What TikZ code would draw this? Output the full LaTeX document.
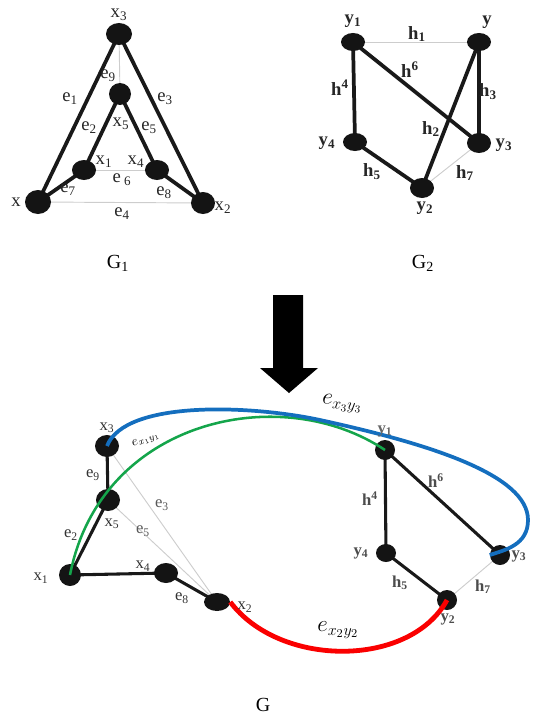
\documentclass[tikz,border=0pt]{standalone}
\usepackage{fontspec}
\setmainfont{Liberation Serif}
\usetikzlibrary{shapes.geometric}
\pgfdeclarelayer{background}
\pgfsetlayers{background,main}
\newcommand{\lsub}[2]{#1\textsubscript{#2}}
\definecolor{edgegray}{RGB}{205,205,205}
\definecolor{arcblue}{RGB}{20,110,190}
\definecolor{arcgreen}{RGB}{20,165,75}
\definecolor{arcred}{RGB}{250,0,0}
\tikzset{
  v/.style 2 args={ellipse, fill=black!92, draw=none, inner sep=0pt,
    minimum width=#1*0.75pt, minimum height=#2*0.75pt},
  lbl/.style={inner sep=0pt, font=\fontsize{14}{16}\selectfont, text=black!85},
  slbl/.style={inner sep=0pt, font=\fontsize{12.5}{14}\selectfont, text=black!80},
  heavy/.style={line width=2.8pt, black!90},
  lheavy/.style={line width=2.3pt, black!90},
  light/.style={line width=0.7pt, edgegray},
  title/.style={inner sep=0pt, font=\fontsize{15}{17}\selectfont},
}
\begin{document}
\begin{tikzpicture}[x=0.75pt, y=-0.75pt]
\useasboundingbox (0,0) rectangle (534,717);

% ---------- G1 ----------
\node[v={26}{22}] (a3) at (119,34) {};
\node[v={22}{22}] (a5) at (120,94) {};
\node[v={24}{20}] (a1) at (84,170) {};
\node[v={24}{20}] (a4) at (157,170) {};
\node[v={26}{24}] (a0) at (38,202) {};
\node[v={24}{22}] (a2) at (203,203) {};
\begin{pgfonlayer}{background}
  \draw[heavy] (a3.center) -- (a0.center);
  \draw[heavy] (a3.center) -- (a2.center);
  \draw[heavy] (a5.center) -- (a1.center);
  \draw[heavy] (a5.center) -- (a4.center);
  \draw[heavy] (a0.center) -- (a1.center);
  \draw[heavy] (a4.center) -- (a2.center);
  \draw[light] (a3.center) -- (a5.center);
  \draw[light] (a1.center) -- (a4.center);
  \draw[light] (a0.center) -- (a2.center);
\end{pgfonlayer}
\node[lbl] (la3) at (119,15) {\lsub{x}{3}};
\node[lbl] (le9) at (108,76) {\lsub{e}{9}};
\node[lbl] (le1) at (70,99) {\lsub{e}{1}};
\node[lbl] (le3) at (165,99) {\lsub{e}{3}};
\node[lbl] (le2) at (89,128) {\lsub{e}{2}};
\node[lbl] (la5) at (121,124) {\lsub{x}{5}};
\node[lbl] (le5) at (149,128) {\lsub{e}{5}};
\node[lbl] (la1) at (104,162) {\lsub{x}{1}};
\node[lbl] (la4) at (136,162) {\lsub{x}{4}};
\node[lbl] (le6) at (122,180) {e\,\textsubscript{6}};
\node[lbl] (le7) at (68,190) {\lsub{e}{7}};
\node[lbl] (le8) at (164,193) {\lsub{e}{8}};
\node[lbl] (la0) at (16,202) {x};
\node[lbl] (la2) at (223,208) {\lsub{x}{2}};
\node[lbl] (le4) at (122,214) {\lsub{e}{4}};
\node[title] (g1) at (118,263) {G\textsubscript{1}};

% ---------- G2 ----------
\node[v={24}{18}] (b1) at (353,42) {};
\node[v={24}{18}] (b0) at (479,42) {};
\node[v={24}{18}] (b4) at (355,142) {};
\node[v={24}{20}] (b3) at (479,143) {};
\node[v={24}{20}] (b2) at (422,188) {};
\begin{pgfonlayer}{background}
  \draw[heavy] (b1.center) -- (b4.center);
  \draw[heavy] (b1.center) -- (b3.center);
  \draw[heavy] (b0.center) -- (b3.center);
  \draw[heavy] (b0.center) -- (b2.center);
  \draw[heavy] (b4.center) -- (b2.center);
  \draw[light] (b1.center) -- (b0.center);
  \draw[light] (b3.center) -- (b2.center);
\end{pgfonlayer}
\node[lbl] (lb1) at (353,21) {\textbf{\lsub{y}{1}}};
\node[lbl] (lb0) at (487,22) {\textbf{y}};
\node[lbl] (lh1) at (417,34) {\textbf{\lsub{h}{1}}};
\node[lbl] (lh6) at (410,70) {\textbf{h\textsuperscript{6}}};
\node[lbl] (lh4) at (340,88) {\textbf{h\textsuperscript{4}}};
\node[lbl] (lh3) at (488,92) {\textbf{\lsub{h}{3}}};
\node[lbl] (lh2) at (431,129) {\textbf{\lsub{h}{2}}};
\node[lbl] (lb4) at (327,143) {\textbf{\lsub{y}{4}}};
\node[lbl] (lb3) at (504,145) {\textbf{\lsub{y}{3}}};
\node[lbl] (lh5) at (372,172) {\textbf{\lsub{h}{5}}};
\node[lbl] (lh7) at (465,173) {\textbf{\lsub{h}{7}}};
\node[lbl] (lb2) at (425,208) {\textbf{\lsub{y}{2}}};
\node[title] (g2) at (423,263) {G\textsubscript{2}};

% ---------- arrow ----------
\fill[black] (273,295) -- (303,295) -- (303,368) -- (318,368) -- (289,393)
  -- (260,368) -- (273,368) -- cycle;

% ---------- G ----------
\node[v={24}{22}] (c3) at (107,446) {};
\node[v={24}{22}] (c5) at (108,500) {};
\node[v={22}{22}] (c1) at (70,575) {};
\node[v={24}{20}] (c4) at (166,573) {};
\node[v={26}{18}] (c2) at (217,602) {};
\node[v={20}{20}] (d1) at (385,450) {};
\node[v={20}{18}] (d4) at (386,553) {};
\node[v={20}{20}] (d3) at (500,555) {};
\node[v={20}{20}] (d2) at (447,600) {};
\begin{pgfonlayer}{background}
  \draw[lheavy] (c3.center) -- (c5.center);
  \draw[lheavy] (c5.center) -- (c1.center);
  \draw[lheavy] (c1.center) -- (c4.center);
  \draw[lheavy] (c4.center) -- (c2.center);
  \draw[light] (c3.center) -- (c2.center);
  \draw[light] (c5.center) -- (c2.center);
  \draw[lheavy] (d1.center) -- (d4.center);
  \draw[lheavy] (d1.center) -- (d3.center);
  \draw[lheavy] (d4.center) -- (d2.center);
  \draw[light] (d3.center) -- (d2.center);
\end{pgfonlayer}

% joining arcs
\draw[arcgreen, line width=1.9pt] (c1.center) .. controls (100,420) and (280,380) .. (d1.center);
\draw[arcblue, line width=2.8pt] (c3.center) .. controls (125,400) and (250,405) .. (320,420)
  .. controls (430,444) and (528,475) .. (528,520)
  .. controls (528,545) and (505,550) .. (d3.west);
\draw[arcred, line width=3.6pt] (c2.east) .. controls (280,668) and (410,668) .. (d2.center);

\node[slbl] (lc3) at (107,428) {\lsub{x}{3}};
\node[slbl] (lf9) at (93,475) {\lsub{e}{9}};
\node[slbl, text=black!65] (lf3) at (162,505) {\lsub{e}{3}};
\node[slbl] (lc5) at (112,524) {\lsub{x}{5}};
\node[slbl, text=black!65] (lf5) at (143,531) {\lsub{e}{5}};
\node[slbl] (lf2) at (71,535) {\lsub{e}{2}};
\node[slbl] (lc1) at (41,578) {\lsub{x}{1}};
\node[slbl] (lc4) at (143,566) {\lsub{x}{4}};
\node[slbl] (lf8) at (182,598) {\lsub{e}{8}};
\node[slbl] (lc2) at (245,607) {\lsub{x}{2}};
\node[slbl, text=black!60] (ld1) at (385,431) {\textbf{\lsub{y}{1}}};
\node[slbl, text=black!70] (lk6) at (436,481) {\textbf{h\textsuperscript{6}}};
\node[slbl, text=black!70] (lk4) at (370,499) {\textbf{h\textsuperscript{4}}};
\node[slbl, text=black!70] (ld4) at (361,553) {\textbf{\lsub{y}{4}}};
\node[slbl, text=black!70] (ld3) at (519,556) {\textbf{\lsub{y}{3}}};
\node[slbl, text=black!70] (lk5) at (400,583) {\textbf{\lsub{h}{5}}};
\node[slbl, text=black!70] (lk7) at (483,587) {\textbf{\lsub{h}{7}}};
\node[slbl, text=black!70] (ld2) at (448,619) {\textbf{\lsub{y}{2}}};

\node[inner sep=0pt, font=\fontsize{17}{19}\selectfont, rotate=-6] (l33) at (342,404) {$e_{x_3y_3}$};
\node[inner sep=0pt, font=\fontsize{18}{20}\selectfont] (l22) at (338,630) {$e_{x_2y_2}$};
\node[inner sep=0pt, font=\fontsize{10}{12}\selectfont, rotate=22] (l11) at (146,440) {$e_{x_1y_1}$};
\node[title] (g) at (263,705) {G};
\end{tikzpicture}
\end{document}
